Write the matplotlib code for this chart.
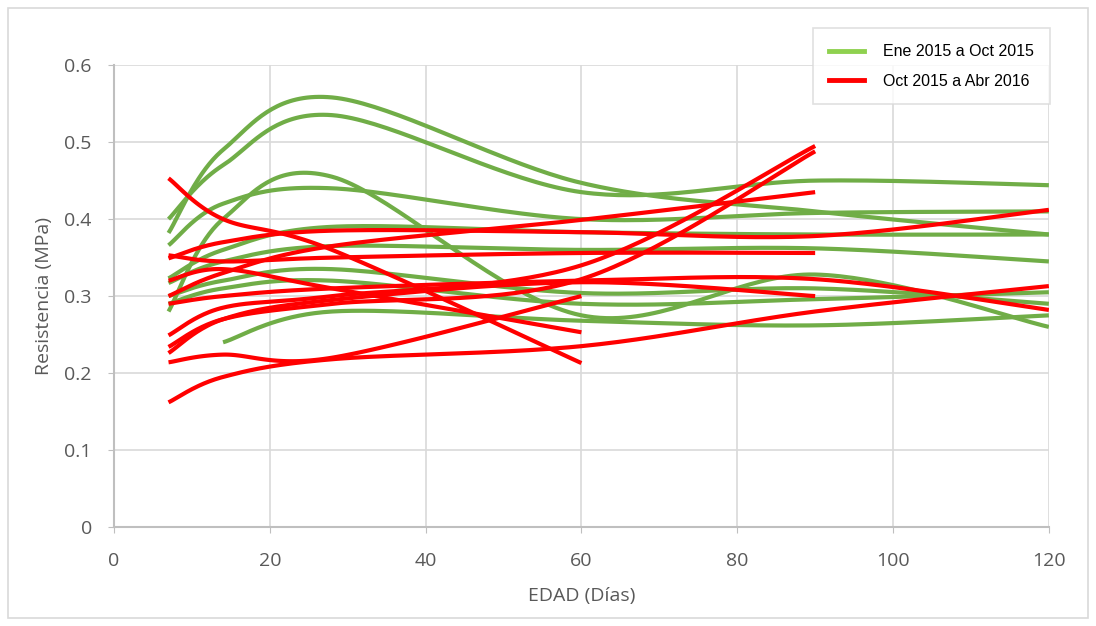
import matplotlib.pyplot as plt
import numpy as np
from matplotlib.lines import Line2D
from matplotlib.patches import Rectangle

# edades de ensayo (dias)
dias_120 = [7, 14, 28, 60, 90, 120]
dias_90 = [7, 14, 28, 60, 90]
dias_60 = [7, 14, 28, 60]
dias_14 = [14, 28, 60, 90, 120]

# Ene 2015 a Oct 2015 (verde)
v1 = [0.382, 0.49, 0.558, 0.447, 0.41, 0.38]
v2 = [0.40, 0.47, 0.535, 0.435, 0.45, 0.444]
v3 = [0.366, 0.42, 0.44, 0.40, 0.408, 0.41]
v4 = [0.28, 0.40, 0.455, 0.275, 0.328, 0.26]
v5 = [0.323, 0.36, 0.39, 0.383, 0.38, 0.38]
v6 = [0.317, 0.345, 0.365, 0.36, 0.362, 0.345]
v7 = [0.30, 0.32, 0.335, 0.304, 0.31, 0.29]
v8 = [0.29, 0.31, 0.32, 0.29, 0.296, 0.305]
v9 = [0.24, 0.28, 0.268, 0.262, 0.275]

# Oct 2015 a Abr 2016 (rojo)
r1 = [0.453, 0.40, 0.36, 0.213]
r2 = [0.162, 0.195, 0.218, 0.235, 0.28, 0.313]
r3 = [0.214, 0.224, 0.22, 0.30]
r4 = [0.249, 0.285, 0.30, 0.34, 0.495]
r5 = [0.234, 0.27, 0.29, 0.322, 0.488]
r6 = [0.30, 0.33, 0.365, 0.399, 0.435]
r7 = [0.353, 0.345, 0.35, 0.356, 0.356]
r8 = [0.349, 0.37, 0.385, 0.383, 0.378, 0.412]
r9 = [0.226, 0.27, 0.295, 0.318, 0.30]
r10 = [0.29, 0.30, 0.31, 0.32, 0.322, 0.282]
r11 = [0.32, 0.335, 0.31, 0.253]

verdes = [(dias_120, v1), (dias_120, v2), (dias_120, v3), (dias_120, v4),
          (dias_120, v5), (dias_120, v6), (dias_120, v7), (dias_120, v8),
          (dias_14, v9)]
rojos = [(dias_60, r1), (dias_120, r2), (dias_60, r3), (dias_90, r4),
         (dias_90, r5), (dias_90, r6), (dias_90, r7), (dias_120, r8),
         (dias_90, r9), (dias_120, r10), (dias_60, r11)]


def suavizar(xs, ys, n=40):
    # curva suavizada tipo Excel (bezier / catmull-rom en escala de pantalla)
    sx, sy = 7.8, 770.0
    P = np.column_stack([np.array(xs) * sx, np.array(ys) * sy])
    P = np.vstack([P[0], P, P[-1]])
    t = np.linspace(0, 1, n)[:, None]
    out = []
    for i in range(1, len(P) - 2):
        p0, p1, p2, p3 = P[i - 1], P[i], P[i + 1], P[i + 2]
        c1 = p1 + (p2 - p0) / 6
        c2 = p2 - (p3 - p1) / 6
        out.append((1 - t)**3 * p1 + 3 * (1 - t)**2 * t * c1 + 3 * (1 - t) * t**2 * c2 + t**3 * p2)
    out = np.vstack(out)
    return out[:, 0] / sx, out[:, 1] / sy


fig = plt.figure(figsize=(10.96, 6.26), dpi=100)
ax = fig.add_axes([0.104, 0.158, 0.853, 0.738])

for d, v in verdes:
    x, y = suavizar(d, v)
    ax.plot(x, y, color='#70ad47', lw=3, solid_capstyle='butt', zorder=3)
for d, v in rojos:
    x, y = suavizar(d, v)
    ax.plot(x, y, color='#ff0000', lw=3, solid_capstyle='butt', zorder=3)

ax.set_xlim(0, 120)
ax.set_ylim(0, 0.6)
ax.set_xticks(range(0, 121, 20))
ax.set_yticks(np.arange(0, 0.61, 0.1))
ax.set_yticklabels(['0', '0.1', '0.2', '0.3', '0.4', '0.5', '0.6'])
ax.grid(True, color='#d9d9d9', lw=1.2, zorder=0)
ax.set_axisbelow(True)
for s in ['top', 'right']:
    ax.spines[s].set_visible(False)
for s in ['left', 'bottom']:
    ax.spines[s].set_color('#bfbfbf')
    ax.spines[s].set_linewidth(1.5)
ax.tick_params(axis='both', length=4, color='#bfbfbf', colors='#595959')
ax.tick_params(axis='x', labelsize=14, pad=14)
ax.tick_params(axis='y', labelsize=14, pad=12)
for lab in ax.get_xticklabels() + ax.get_yticklabels():
    lab.set_family('Open Sans')

ax.set_xlabel('EDAD (Días)', fontsize=14, color='#595959', family='Open Sans', labelpad=12)
ax.set_ylabel('Resistencia (MPa)', fontsize=14, color='#595959', family='Open Sans', labelpad=8)

handles = [Line2D([0], [0], color='#8fd14f', lw=3.5),
           Line2D([0], [0], color='#ff0000', lw=3.5)]
leg = fig.legend(handles, ['Ene 2015 a Oct 2015', 'Oct 2015 a Abr 2016'],
                 loc='upper right', bbox_to_anchor=(0.958, 0.955),
                 prop={'family': 'Liberation Sans', 'size': 11.5},
                 frameon=True, fancybox=False, edgecolor='#d9d9d9',
                 handlelength=2.2, handletextpad=1.2, borderpad=1.0,
                 labelspacing=0.9, borderaxespad=0)
leg.get_frame().set_linewidth(1.2)

fig.patches.append(Rectangle((0.007, 0.012), 0.986, 0.976, transform=fig.transFigure,
                             fill=False, edgecolor='#d9d9d9', lw=1.2))

plt.savefig('out.png', dpi=100)
